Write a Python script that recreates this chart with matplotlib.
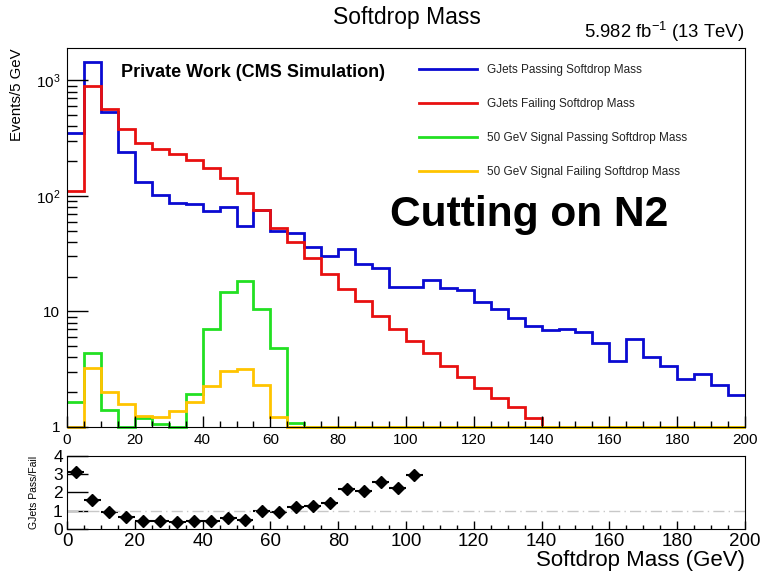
import numpy as np
import matplotlib
matplotlib.use("Agg")
import matplotlib.pyplot as plt
from matplotlib.lines import Line2D
from matplotlib.ticker import FixedLocator, FixedFormatter, MultipleLocator, LogLocator, NullFormatter

plt.rcParams["font.family"] = ["Liberation Sans", "DejaVu Sans"]
plt.rcParams["mathtext.default"] = "regular"

# 5 GeV bins from 0 to 200
bin_edges = np.arange(0, 205, 5)

gjets_pass = [350, 1430, 537, 239, 131, 102, 86, 85, 74, 80, 55, 75, 50, 48, 36, 30,
              35, 26, 23.7, 16.3, 16.3, 18.9, 16.0, 15.2, 12.1, 10.4, 8.7, 7.5, 6.9, 7.1,
              6.6, 5.3, 3.7, 5.8, 4.0, 3.4, 2.6, 2.85, 2.3, 1.9]
gjets_fail = [111, 898, 564, 380, 286, 254, 229, 205, 176, 142, 105, 75, 53, 40, 29, 21,
              15.5, 12.3, 9.1, 7.1, 5.6, 4.4, 3.4, 2.7, 2.17, 1.79, 1.49, 1.2,
              1, 1, 1, 1, 1, 1, 1, 1, 1, 1, 1, 1]
signal_pass = [1.63, 4.4, 1.39, 1, 1.19, 1.07, 1, 1.94, 7.0, 14.7, 18.4, 10.5, 4.8, 1.09,
               1, 1, 1, 1, 1, 1, 1, 1, 1, 1, 1, 1, 1, 1, 1, 1, 1, 1, 1, 1, 1, 1, 1, 1, 1, 1]
signal_fail = [1, 3.26, 2.02, 1.57, 1.25, 1.22, 1.37, 1.64, 2.25, 3.05, 3.17, 2.32, 1.23,
               1, 1, 1, 1, 1, 1, 1, 1, 1, 1, 1, 1, 1, 1, 1, 1, 1, 1, 1, 1, 1, 1, 1, 1, 1, 1, 1]

# GJets pass/fail ratio, bin centres
ratio_x = [2.5, 7.5, 12.5, 17.5, 22.5, 27.5, 32.5, 37.5, 42.5, 47.5, 52.5,
           57.5, 62.5, 67.5, 72.5, 77.5, 82.5, 87.5, 92.5, 97.5, 102.5]
ratio_y = [3.11, 1.59, 0.95, 0.64, 0.46, 0.46, 0.40, 0.46, 0.46, 0.58, 0.49,
           1.0, 0.95, 1.19, 1.26, 1.41, 2.19, 2.10, 2.59, 2.26, 2.96]

labels = ["GJets Passing Softdrop Mass", "GJets Failing Softdrop Mass",
          "50 GeV Signal Passing Softdrop Mass", "50 GeV Signal Failing Softdrop Mass"]
colors = ["#0a0ad2", "#e81010", "#22e022", "#ffc400"]

fig = plt.figure(figsize=(7.6, 5.74), dpi=100)
ax = fig.add_axes([0.0882, 0.2561, 0.892, 0.660])
rax = fig.add_axes([0.0882, 0.0784, 0.892, 0.1272])

for vals, col in zip([gjets_pass, gjets_fail, signal_pass, signal_fail], colors):
    ax.stairs(vals, bin_edges, baseline=None, color=col, linewidth=2.0, clip_on=False)

ax.set_yscale("log")
ax.set_xlim(0, 200)
ax.set_ylim(1, 1900)
ax.yaxis.set_major_locator(FixedLocator([1, 10, 100, 1000]))
ax.yaxis.set_major_formatter(FixedFormatter(["1", "10", "10$^{2}$", "10$^{3}$"]))
ax.yaxis.set_minor_locator(LogLocator(base=10, subs=np.arange(2, 10)))
ax.yaxis.set_minor_formatter(NullFormatter())
ax.xaxis.set_major_locator(MultipleLocator(20))
ax.xaxis.set_minor_locator(MultipleLocator(5))
ax.tick_params(axis="y", which="major", direction="in", length=15, width=1, labelsize=11, pad=5)
ax.tick_params(axis="y", which="minor", direction="in", length=7.5, width=1)
ax.tick_params(axis="x", which="major", direction="in", length=8, width=1, labelsize=11, pad=4)
ax.tick_params(axis="x", which="minor", direction="in", length=4, width=1)
ax.set_ylabel("Events/5 GeV", fontsize=10.8, loc="top", labelpad=8)

handles = [Line2D([], [], color=c, linewidth=2.0) for c in colors]
ax.legend(handles, labels, loc="upper left", bbox_to_anchor=(0.519, 0.957),
          frameon=False, fontsize=8.5, handlelength=4.9, handletextpad=0.9,
          labelspacing=1.85, borderpad=0, borderaxespad=0, labelcolor="#222222")

ax.text(0.08, 0.935, "Private Work (CMS Simulation)", transform=ax.transAxes,
        fontsize=13, fontweight="bold", ha="left", va="center")
ax.text(0.477, 0.56, "Cutting on N2", transform=ax.transAxes,
        fontsize=30.6, fontweight="bold", ha="left", va="center")

fig.text(0.536, 0.970, "Softdrop Mass", fontsize=16.5, ha="center", va="center")
fig.text(0.980, 0.944, "5.982 fb$^{-1}$ (13 TeV)", fontsize=13.3, ha="right", va="center")

# ratio panel
rax.errorbar(ratio_x, ratio_y, xerr=2.5, fmt="D", color="black", markersize=6.5,
             elinewidth=1.5, capsize=0)
rax.axhline(1, color="#c8c8c8", linestyle=(0, (8, 3, 1, 3)), linewidth=1)
rax.set_xlim(0, 200)
rax.set_ylim(0, 4)
rax.xaxis.set_major_locator(MultipleLocator(20))
rax.xaxis.set_minor_locator(MultipleLocator(5))
rax.yaxis.set_major_locator(MultipleLocator(1))
rax.tick_params(axis="y", which="major", direction="in", length=15, width=1, labelsize=12.5, pad=3)
rax.tick_params(axis="x", which="major", direction="in", length=6, width=1, labelsize=13.5, pad=3)
rax.tick_params(axis="x", which="minor", direction="in", length=3, width=1)
rax.set_ylabel("GJets Pass/Fail", fontsize=7.5, labelpad=10)
rax.set_xlabel("Softdrop Mass (GeV)", fontsize=16, loc="right", labelpad=0)

fig.savefig("out.png", dpi=100)
